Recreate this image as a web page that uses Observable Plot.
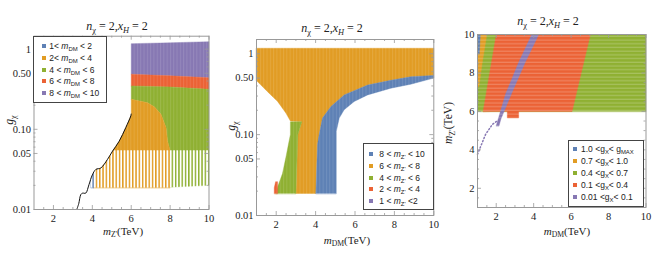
<!DOCTYPE html>
<html><head><meta charset="utf-8">
<script src="https://cdn.jsdelivr.net/npm/d3@7"></script>
<script src="https://cdn.jsdelivr.net/npm/@observablehq/plot@0.6"></script>
<style>
body{margin:0;background:#fff;}
#wrap{position:relative;width:664px;height:255px;overflow:hidden;background:#fff;}
.panel{position:absolute;top:0;}
.lbl{position:absolute;white-space:nowrap;font-family:"Liberation Serif",serif;color:#222;transform:translate(-50%,-50%);line-height:1;}
.rot{transform:translate(-50%,-50%) rotate(-90deg);}
sub{font-size:0.7em;vertical-align:-0.3em;line-height:0;}
.legend{position:absolute;background:#fff;border:1px solid #444;font-family:"Liberation Sans",Arial,sans-serif;font-size:8.5px;color:#222;box-sizing:border-box;}
.legend .row{position:absolute;white-space:nowrap;transform:translateY(-50%);line-height:1;}
.legend .sw{position:absolute;width:4px;height:4px;transform:translate(-50%,-50%);}
</style></head>
<body>
<svg width="0" height="0" style="position:absolute">
  <defs>
    <pattern id="vsparse" patternUnits="userSpaceOnUse" width="3.3" height="10">
      <rect x="1.5" y="0" width="1.8" height="10" fill="#fff"/>
    </pattern>
    <pattern id="vfaint" patternUnits="userSpaceOnUse" width="3.3" height="10">
      <rect x="1.8" y="0" width="0.8" height="10" fill="#fff" fill-opacity="0.14"/>
    </pattern>
    <pattern id="hfaint" patternUnits="userSpaceOnUse" width="10" height="3.7">
      <rect x="0" y="2.6" width="10" height="0.7" fill="#fff" fill-opacity="0.38"/>
    </pattern>
  </defs>
</svg>
<div id="wrap"></div>
<script>
// ---------- data ----------
// Panel 1: x = m_Z' (TeV), y = g_X  (regions coloured by m_DM)
const p1Purple = [[6,0.487],[6,1.17],[8,1.2],[10,1.24],[10,0.44],[8,0.465]];
const p1Red = [[6,0.348],[6,0.487],[8,0.465],[10,0.44],[10,0.316],[8,0.338]];
const p1Green = [[6,0.237],[6,0.348],[8,0.338],[10,0.316],[10,0.020],[8,0.019],[8,0.054],[7.95,0.06],[7.87,0.071],[7.79,0.105],[7.53,0.154],[7.2,0.19],[6.84,0.215]];
const p1Orange = [[4.05,0.0187],[4.05,0.028],[4.18,0.0316],[4.44,0.033],[4.78,0.0422],[5.04,0.0535],[5.38,0.071],[5.72,0.105],[5.98,0.147],[6,0.155],[6,0.237],[6.84,0.215],[7.2,0.19],[7.53,0.154],[7.79,0.105],[7.87,0.071],[7.95,0.06],[8,0.054],[8,0.0187]];
const p1Blue = [[3.92,0.0187],[3.92,0.024],[4.0,0.027],[4.08,0.029],[4.08,0.0187]];
const p1Curve = [[3.2,0.01],[3.3,0.0118],[3.41,0.0154],[3.5,0.016],[3.66,0.016],[3.83,0.0205],[4.0,0.027],[4.18,0.0316],[4.44,0.033],[4.78,0.0422],[5.04,0.0535],[5.38,0.071],[5.72,0.105],[5.98,0.147],[6.0,0.155]];
const p1Sparse = [{x1:3.9, x2:10, y1:0.0185, y2:0.054}];
const p1LegendLo = ["1&lt;", "2&lt;", "4 &lt;", "6 &lt;", "8 &lt;"];
const p1LegendHi = ["&lt; 2", "&lt; 4", "&lt; 6", "&lt; 8", "&lt; 10"];

// Panel 2: x = m_DM (TeV), y = g_X  (regions coloured by m_Z')
const p2Orange = [[1,1.17],[10,1.17],[10,0.54],[8.83,0.52],[7.82,0.47],[6.64,0.41],[5.45,0.31],[4.78,0.223],[4.35,0.16],[4.18,0.1],[4.1,0.076],[4.01,0.0187],[3.0,0.0187],[3.1,0.1],[3.3,0.144],[2.72,0.147],[2.49,0.185],[2.07,0.257],[1.56,0.34],[1.06,0.45],[1,0.46]];
const p2Blue = [[4.01,0.0187],[4.1,0.076],[4.18,0.1],[4.35,0.16],[4.78,0.223],[5.45,0.31],[6.64,0.41],[7.82,0.47],[8.83,0.52],[10,0.54],[10,0.5],[8.83,0.42],[7.82,0.375],[6.64,0.31],[5.96,0.257],[5.45,0.203],[5.2,0.16],[5.05,0.11],[5.05,0.0187]];
const p2Green = [[1.98,0.0187],[2.07,0.0225],[2.32,0.033],[2.49,0.052],[2.72,0.1],[2.72,0.144],[3.3,0.144],[3.1,0.1],[3.0,0.0187]];
const p2Red = [[1.9,0.0187],[1.9,0.022],[1.97,0.0262],[2.07,0.0262],[2.07,0.0187]];
const p2LegendLo = ["8 &lt;", "6 &lt;", "4 &lt;", "2 &lt;", "1 &lt;"];
const p2LegendHi = ["&lt; 10", "&lt; 8", "&lt; 6", "&lt; 4", "&lt;2"];

// Panel 3: x = m_DM (TeV), y = m_Z' (TeV)  (regions coloured by g_X)
const p3Green = [[1,6],[1,10],[10,10],[10,6]];
const p3Red = [[1.3,6],[2.0,10],[7.03,10],[6.05,6],[3.2,6],[3.2,5.66],[2.59,5.66],[2.59,6]];
const p3Orange = [[1,7.3],[1,10],[1.5,10],[1.25,8.5],[1.08,7.3]];
const p3Blue = [[1,9.0],[1,10],[1.15,10],[1.1,9.0]];
const p3Purple = [[2.0,5.25],[2.5,6.9],[3.2,8.55],[3.9,10],[4.27,10],[3.55,8.55],[2.85,7.0],[2.25,5.6],[2.15,5.25]];
const p3Tail = [[1.0,3.77],[1.43,4.8],[1.79,5.32],[2.05,5.5]];
const p3LegendLo = ["1.0 &lt;", "0.7 &lt;", "0.4 &lt;", "0.1 &lt;", "0.01 &lt;"];
const p3LegendHi = ["g<sub>MAX</sub>", "1.0", "0.7", "0.4", "0.1"];

// ticks
const xMajor = [2,4,6,8,10];
const xMinor = [1.5,2.5,3,3.5,4.5,5,5.5,6.5,7,7.5,8.5,9,9.5];
const gMajor = [0.01,0.05,0.1,0.5,1];
const gMajorLabels = ["0.01","0.05","0.10","0.50","1"];
const gMinor = [0.02,0.03,0.04,0.06,0.07,0.08,0.09,0.2,0.3,0.4,0.6,0.7,0.8,0.9];
const mMajor = [2,4,6,8,10];
const mMinor = [1.5,2.5,3,3.5,4.5,5,5.5,6.5,7,7.5,8.5,9,9.5];

// ---------- style ----------
const C = {blue:"#5E81B5", orange:"#E19C24", green:"#8FB032", red:"#EB6235", purple:"#8778B3"};
const FRAME = "#999";

const poly = (pts, fill) => Plot.line(pts, {x: d => d[0], y: d => d[1], fill, stroke: fill, strokeWidth: 0.4, curve: "linear-closed"});
function frameTicks(xMaj, xMin, yMaj, yMin, fw, fh) {
  const s = {stroke: FRAME, strokeWidth: 0.8};
  return [
    Plot.ruleX(xMaj, {...s, insetTop: fh - 4}), Plot.ruleX(xMaj, {...s, insetBottom: fh - 4}),
    Plot.ruleX(xMin, {...s, insetTop: fh - 2}), Plot.ruleX(xMin, {...s, insetBottom: fh - 2}),
    Plot.ruleY(yMaj, {...s, insetRight: fw - 4}), Plot.ruleY(yMaj, {...s, insetLeft: fw - 4}),
    Plot.ruleY(yMin, {...s, insetRight: fw - 2}), Plot.ruleY(yMin, {...s, insetLeft: fw - 2})
  ];
}
const baseStyle = {fontFamily: "'Liberation Serif', serif", fontSize: "10.5px", color: "#222", background: "transparent", overflow: "visible"};

const wrap = document.getElementById("wrap");
function place(svg, left) {
  const d = document.createElement("div");
  d.className = "panel"; d.style.left = left + "px";
  d.appendChild(svg); wrap.appendChild(d);
}
function label(html, x, y, size, rot) {
  const d = document.createElement("div");
  d.className = "lbl" + (rot ? " rot" : "");
  d.style.left = x + "px"; d.style.top = y + "px"; d.style.fontSize = size + "px";
  d.innerHTML = html; wrap.appendChild(d);
}
function legend(box, colors, lo, hi, mid, swX, txtX, y0, dy) {
  const d = document.createElement("div");
  d.className = "legend";
  Object.assign(d.style, {left: box[0] + "px", top: box[1] + "px", width: box[2] + "px", height: box[3] + "px"});
  for (let i = 0; i < lo.length; i++) {
    const sw = document.createElement("div");
    sw.className = "sw"; sw.style.background = colors[i];
    sw.style.left = swX + "px"; sw.style.top = (y0 + i * dy) + "px";
    d.appendChild(sw);
    const r = document.createElement("div");
    r.className = "row"; r.style.left = txtX + "px"; r.style.top = (y0 + i * dy) + "px";
    r.innerHTML = lo[i] + mid + hi[i];
    d.appendChild(r);
  }
  wrap.appendChild(d);
}

// ---------- panel 1 ----------
{
  const mL = 33.5, mR = 13.5, mT = 35.7, mB = 46, W = 222, H = 255;
  const svg = Plot.plot({
    width: W, height: H, marginLeft: mL, marginRight: mR, marginTop: mT, marginBottom: mB,
    style: baseStyle,
    x: {domain: [1, 10], ticks: xMajor, tickSize: 0, tickPadding: 5, label: null},
    y: {type: "log", domain: [0.01, 1.45], ticks: gMajor, tickFormat: d => gMajorLabels[gMajor.indexOf(d)], tickSize: 0, tickPadding: 3, label: null},
    marks: [
      poly(p1Purple, C.purple), poly(p1Red, C.red), poly(p1Green, C.green), poly(p1Orange, C.orange), poly(p1Blue, C.blue),
      Plot.rect([{x1:1, x2:10, y1:0.01, y2:1.45}], {x1:"x1", x2:"x2", y1:"y1", y2:"y2", fill: "url(#vfaint)"}),
      Plot.rect(p1Sparse, {x1:"x1", x2:"x2", y1:"y1", y2:"y2", fill: "url(#vsparse)"}),
      Plot.line(p1Curve, {x: d => d[0], y: d => d[1], stroke: "#111", strokeWidth: 1, curve: "catmull-rom"}),
      Plot.frame({stroke: FRAME}),
      ...frameTicks(xMajor, xMinor, gMajor, gMinor, W - mL - mR, H - mT - mB)
    ]
  });
  place(svg, 0);
  label("<i>n</i><sub>χ</sub> = 2,<i>x</i><sub><i>H</i></sub> = 2", 117, 26, 12);
  label("<i>m</i><sub>Z'</sub>(TeV)", 123, 231, 11);
  label("<i>g</i><sub>χ</sub>", 10, 120, 11.5, true);
  legend([33, 36, 74, 67], [C.blue, C.orange, C.green, C.red, C.purple], p1LegendLo, p1LegendHi, " <i>m</i><sub>DM</sub> ", 9.7, 15.3, 9, 11.8);
}

// ---------- panel 2 ----------
{
  const mL = 34, mR = 10.7, mT = 39, mB = 40, W = 222, H = 255;
  const svg = Plot.plot({
    width: W, height: H, marginLeft: mL, marginRight: mR, marginTop: mT, marginBottom: mB,
    style: baseStyle,
    x: {domain: [1, 10], ticks: xMajor, tickSize: 0, tickPadding: 5, label: null},
    y: {type: "log", domain: [0.01, 1.5], ticks: gMajor, tickFormat: d => gMajorLabels[gMajor.indexOf(d)], tickSize: 0, tickPadding: 3, label: null},
    marks: [
      poly(p2Orange, C.orange), poly(p2Blue, C.blue), poly(p2Green, C.green), poly(p2Red, C.red),
      Plot.rect([{x1:1, x2:10, y1:0.01, y2:1.5}], {x1:"x1", x2:"x2", y1:"y1", y2:"y2", fill: "url(#vfaint)"}),
      Plot.frame({stroke: FRAME}),
      ...frameTicks(xMajor, xMinor, gMajor, gMinor, W - mL - mR, H - mT - mB)
    ]
  });
  place(svg, 222);
  label("<i>n</i><sub>χ</sub> = 2,<i>x</i><sub><i>H</i></sub> = 2", 332, 28, 12);
  label("<i>m</i><sub>DM</sub>(TeV)", 347, 240, 11);
  label("<i>g</i><sub>χ</sub>", 232, 126, 11.5, true);
  legend([363, 143, 71, 67], [C.blue, C.orange, C.green, C.red, C.purple], p2LegendLo, p2LegendHi, " <i>m</i><sub>Z'</sub> ", 7, 15.3, 10.3, 11.7);
}

// ---------- panel 3 ----------
{
  const mL = 33, mR = 18.5, mT = 34, mB = 48, W = 220, H = 255;
  const svg = Plot.plot({
    width: W, height: H, marginLeft: mL, marginRight: mR, marginTop: mT, marginBottom: mB,
    style: baseStyle,
    x: {domain: [1, 10], ticks: xMajor, tickSize: 0, tickPadding: 5, label: null},
    y: {domain: [1, 10], ticks: mMajor, tickSize: 0, tickPadding: 3, label: null},
    marks: [
      poly(p3Green, C.green), poly(p3Orange, C.orange), poly(p3Blue, C.blue), poly(p3Red, C.red), poly(p3Purple, C.purple),
      Plot.line(p3Tail, {x: d => d[0], y: d => d[1], stroke: C.purple, strokeWidth: 1.5, strokeDasharray: "1.2,2.2"}),
      Plot.rect([{x1:1, x2:10, y1:5.6, y2:10}], {x1:"x1", x2:"x2", y1:"y1", y2:"y2", fill: "url(#hfaint)"}),
      Plot.frame({stroke: FRAME}),
      ...frameTicks(xMajor, xMinor, mMajor, mMinor, W - mL - mR, H - mT - mB)
    ]
  });
  place(svg, 444);
  label("<i>n</i><sub>χ</sub> = 2,<i>x</i><sub><i>H</i></sub> = 2", 548, 21, 12);
  label("<i>m</i><sub>DM</sub>(TeV)", 567, 231, 11);
  label("<i>m</i><sub>Z'</sub>(TeV)", 449, 123, 11.5, true);
  legend([567.5, 139.5, 76, 67], [C.blue, C.orange, C.green, C.red, C.purple], p3LegendLo, p3LegendHi, "g<sub>X</sub>&lt; ", 6.5, 12.5, 8.8, 12);
}
</script>
</body></html>
